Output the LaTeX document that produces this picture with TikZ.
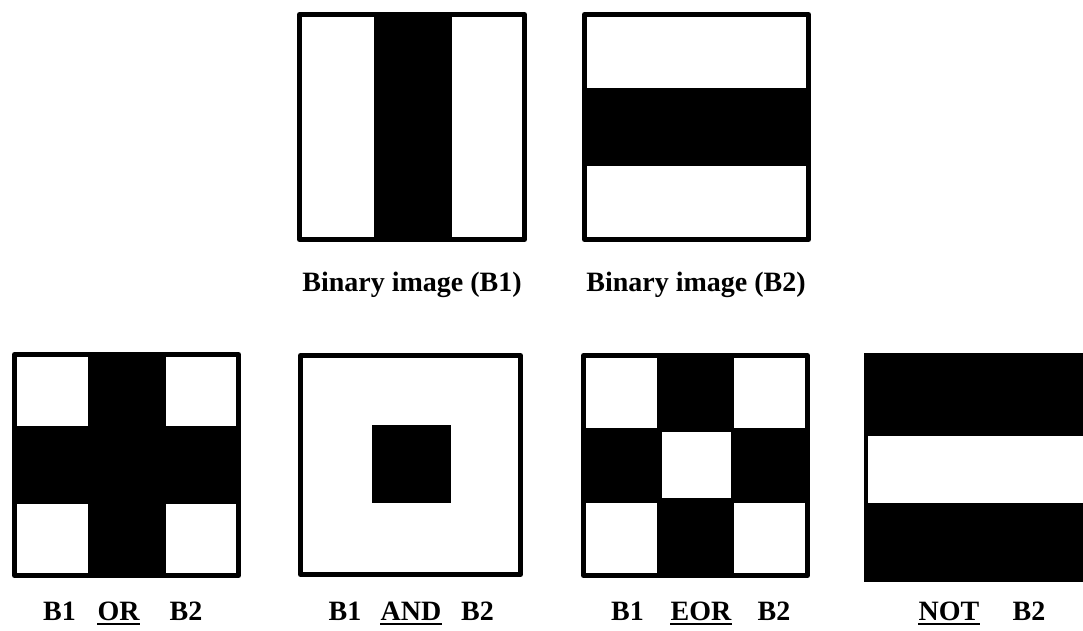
\documentclass[tikz,border=0pt]{standalone}
\usepackage{fontspec}
\setmainfont{Liberation Serif}
\begin{document}
\begin{tikzpicture}[x=1pt,y=-1pt,
  frame/.style={draw=black,line width=5pt,line join=round},
  blk/.style={fill=black},
  wht/.style={fill=white},
  lbl/.style={font=\bfseries\fontsize{28}{30}\selectfont,anchor=base,inner sep=0pt},
  ul/.style={line width=1.8pt}]
\useasboundingbox (0,0) rectangle (1083,631);
\clip (0,0) rectangle (1083,631);
% ---- Binary image B1
\fill[blk] (374,12) rectangle (452,242);
\draw[frame] (299.5,14.5) rectangle (524.5,239.5);
\node[lbl] (t1) at (412,291) {Binary image (B1)};
% ---- Binary image B2
\fill[blk] (582,88) rectangle (811,166);
\draw[frame] (584.5,14.5) rectangle (808.5,239.5);
\node[lbl] (t2) at (696,291) {Binary image (B2)};
% ---- OR
\fill[blk] (88,352) rectangle (166,578);
\fill[blk] (12,426) rectangle (241,504);
\draw[frame] (14.5,354.5) rectangle (238.5,575.5);
\node[lbl] (or1) at (59.5,620) {B1};
\node[lbl] (or) at (118.5,620) {OR};
\node[lbl] (or2) at (186,620) {B2};
\draw[ul] ([yshift=-4pt]or.base west) -- ([yshift=-4pt]or.base east);
% ---- AND
\fill[blk] (372,425) rectangle (451,503);
\draw[frame] (300.5,355.5) rectangle (520.5,574.5);
\node[lbl] (and1) at (345,620) {B1};
\node[lbl] (and) at (411,620) {AND};
\node[lbl] (and2) at (477.5,620) {B2};
\draw[ul] ([yshift=-4pt]and.base west) -- ([yshift=-4pt]and.base east);
% ---- EOR
\fill[blk] (657,353) rectangle (734,578);
\fill[blk] (581,428) rectangle (810,503);
\fill[wht] (662,432) rectangle (731,498);
\draw[frame] (583.5,355.5) rectangle (807.5,575.5);
\node[lbl] (eor1) at (627.5,620) {B1};
\node[lbl] (eor) at (701,620) {EOR};
\node[lbl] (eor2) at (774,620) {B2};
\draw[ul] ([yshift=-4pt]eor.base west) -- ([yshift=-4pt]eor.base east);
% ---- NOT
\fill[blk] (864,353) rectangle (1093,582);
\fill[wht] (868,436) rectangle (1093,503);
\node[lbl] (not) at (949,620) {NOT};
\node[lbl] (not2) at (1029,620) {B2};
\draw[ul] ([yshift=-4pt]not.base west) -- ([yshift=-4pt]not.base east);
\end{tikzpicture}
\end{document}
